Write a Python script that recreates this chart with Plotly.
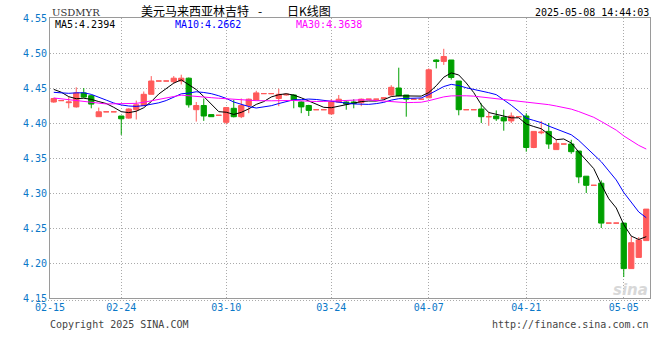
import pandas as pd
import plotly.graph_objects as go

# ---------------- data ----------------
missing_days = ["2025-03-31", "2025-04-20", "2025-04-27"]
all_days = pd.date_range("2025-02-15", "2025-05-08", freq="D")
dates = [d.strftime("%m-%d") for d in all_days if d.strftime("%Y-%m-%d") not in missing_days]

opens = [4.430, 4.432, 4.429, 4.423, 4.443, 4.439, 4.409, 4.416, 4.416, 4.410,
         4.407, 4.419, 4.425, 4.441, 4.460, 4.460, 4.459, 4.460, 4.464, 4.419,
         4.425, 4.412, 4.411, 4.401, 4.421, 4.409, 4.425, 4.433, 4.442, 4.442,
         4.435, 4.440, 4.440, 4.430, 4.425, 4.419, 4.419, 4.413, 4.430, 4.430,
         4.430, 4.429, 4.434, 4.434, 4.435, 4.440, 4.450, 4.440, 4.434, 4.434,
         4.436, 4.490, 4.488, 4.490, 4.460, 4.419, 4.419, 4.420, 4.409, 4.410,
         4.408, 4.403, 4.409, 4.410, 4.365, 4.386, 4.388, 4.362, 4.370, 4.370,
         4.360, 4.324, 4.311, 4.314, 4.257, 4.257, 4.257, 4.192, 4.208, 4.232]
highs = [4.436, 4.432, 4.437, 4.451, 4.450, 4.440, 4.422, 4.416, 4.416, 4.410,
         4.421, 4.432, 4.445, 4.467, 4.460, 4.460, 4.467, 4.469, 4.465, 4.430,
         4.435, 4.412, 4.411, 4.422, 4.433, 4.435, 4.435, 4.446, 4.442, 4.442,
         4.449, 4.442, 4.441, 4.431, 4.426, 4.419, 4.419, 4.434, 4.440, 4.431,
         4.434, 4.435, 4.434, 4.434, 4.437, 4.454, 4.479, 4.440, 4.434, 4.434,
         4.478, 4.491, 4.506, 4.490, 4.460, 4.419, 4.419, 4.428, 4.416, 4.418,
         4.419, 4.415, 4.409, 4.414, 4.388, 4.403, 4.400, 4.377, 4.370, 4.376,
         4.360, 4.324, 4.311, 4.318, 4.257, 4.257, 4.257, 4.238, 4.237, 4.277]
lows = [4.429, 4.432, 4.421, 4.422, 4.436, 4.421, 4.409, 4.416, 4.416, 4.383,
        4.406, 4.405, 4.424, 4.441, 4.460, 4.460, 4.456, 4.455, 4.422, 4.402,
        4.403, 4.409, 4.411, 4.398, 4.408, 4.407, 4.414, 4.433, 4.442, 4.442,
        4.424, 4.439, 4.421, 4.414, 4.410, 4.419, 4.419, 4.412, 4.430, 4.419,
        4.421, 4.424, 4.434, 4.434, 4.434, 4.439, 4.438, 4.409, 4.434, 4.434,
        4.436, 4.478, 4.483, 4.462, 4.411, 4.419, 4.419, 4.400, 4.396, 4.403,
        4.389, 4.400, 4.409, 4.359, 4.364, 4.384, 4.363, 4.362, 4.370, 4.356,
        4.314, 4.300, 4.311, 4.250, 4.257, 4.257, 4.180, 4.192, 4.208, 4.232]
closes = [4.435, 4.432, 4.430, 4.443, 4.437, 4.427, 4.416, 4.416, 4.416, 4.406,
          4.420, 4.426, 4.441, 4.460, 4.460, 4.460, 4.464, 4.464, 4.426, 4.425,
          4.410, 4.409, 4.411, 4.422, 4.409, 4.425, 4.434, 4.443, 4.442, 4.442,
          4.441, 4.441, 4.433, 4.423, 4.418, 4.419, 4.419, 4.430, 4.434, 4.427,
          4.428, 4.434, 4.434, 4.434, 4.436, 4.451, 4.439, 4.434, 4.434, 4.434,
          4.476, 4.488, 4.495, 4.465, 4.419, 4.419, 4.419, 4.409, 4.409, 4.406,
          4.403, 4.410, 4.409, 4.365, 4.388, 4.387, 4.370, 4.371, 4.370, 4.359,
          4.323, 4.311, 4.311, 4.257, 4.257, 4.257, 4.192, 4.229, 4.233, 4.277]

# closes of the 29 sessions before the window (needed for the moving averages)
prior_closes = [4.470, 4.470, 4.470, 4.478, 4.468, 4.455, 4.447, 4.410, 4.410, 4.410,
                4.412, 4.395, 4.392, 4.395, 4.405, 4.405, 4.405, 4.460, 4.448, 4.430,
                4.440, 4.436, 4.436, 4.436, 4.450, 4.452, 4.462, 4.4575, 4.4335]

tick_labels = ["02-15", "02-24", "03-10", "03-24", "04-07", "04-21", "05-05"]
symbol = "USDMYR"
title_parts = ["美元马来西亚林吉特", "-", "日K线图"]
stamp = "2025-05-08 14:44:03"
ma_texts = ["MA5:4.2394", "MA10:4.2662", "MA30:4.3638"]
ma_periods = [5, 10, 30]

# ---------------- styling ----------------
RED = "#ff5a5a"
GREEN = "#00a000"
MA_COLORS = ["#000000", "#0000ff", "#ff00ff"]
BLUE_TXT = "#0a78c8"
MONO = "DejaVu Sans Mono, Liberation Mono, monospace"
GRID = "#aaaaaa"
FRAME = "#9a9a9a"

L, R, T, B = 50, 10, 18, 62
W, H = 660, 360
PW, PH = W - L - R, H - T - B


def px(x):
    return (x - L) / PW


def py(y):
    return (H - B - y) / PH


df = pd.DataFrame({"open": opens, "high": highs, "low": lows, "close": closes})
df["pos"] = range(len(df))
up = df[df["close"] >= df["open"]]
dn = df[df["close"] < df["open"]]

full = pd.Series(prior_closes + closes)

fig = go.Figure()
for sub, col in [(up, RED), (dn, GREEN)]:
    fig.add_trace(go.Candlestick(
        x=sub["pos"], open=sub["open"], high=sub["high"], low=sub["low"], close=sub["close"],
        increasing=dict(line=dict(color=col, width=1), fillcolor=col),
        decreasing=dict(line=dict(color=col, width=1), fillcolor=col),
        whiskerwidth=0, hoverinfo="skip", showlegend=False))

n_prior = len(prior_closes)
for p, c in zip(ma_periods, MA_COLORS):
    ma = full.rolling(p, min_periods=1).mean().iloc[n_prior:]
    fig.add_trace(go.Scatter(x=df["pos"], y=ma.values, mode="lines",
                             line=dict(color=c, width=1), hoverinfo="skip", showlegend=False))

tickvals = [dates.index(t) for t in tick_labels]
x_range = [-0.5, len(dates) - 0.5]
tickvals[0] = x_range[0]

fig.update_layout(
    width=W, height=H,
    margin=dict(l=L, r=R, t=T, b=B, pad=0),
    paper_bgcolor="white", plot_bgcolor="white",
    showlegend=False, boxgap=0.3, boxgroupgap=0,
    xaxis=dict(range=x_range, tickmode="array", tickvals=tickvals, ticktext=tick_labels,
               showgrid=True, gridcolor=GRID, griddash="1px,2px", gridwidth=1,
               zeroline=False, showline=True, linecolor=FRAME, linewidth=1, mirror=True,
               ticks="", tickfont=dict(family=MONO, size=10, color=BLUE_TXT),
               rangeslider=dict(visible=False), fixedrange=True),
    yaxis=dict(range=[4.15, 4.55], tick0=4.15, dtick=0.05, tickformat=".2f",
               showgrid=True, gridcolor=GRID, griddash="1px,2px", gridwidth=1,
               zeroline=False, showline=True, linecolor=FRAME, linewidth=1, mirror=True,
               ticks="", tickfont=dict(family=MONO, size=10, color=BLUE_TXT), fixedrange=True),
)

ann = []
ann.append(dict(text=symbol, x=px(51), y=py(12), xanchor="left", yanchor="middle",
                font=dict(family="DejaVu Serif, serif", size=10, color="#333333")))
for t, x0 in zip(title_parts, [140, 257, 286]):
    ann.append(dict(text=t, x=px(x0), y=py(10), xanchor="left", yanchor="middle",
                    font=dict(family="Noto Sans CJK SC", size=12, color="#000000")))
ann.append(dict(text=stamp, x=px(650), y=py(12), xanchor="right", yanchor="middle",
                font=dict(family=MONO, size=10, color="#000000")))
for t, x0, c in zip(ma_texts, [54, 174, 295], MA_COLORS):
    ann.append(dict(text=t, x=px(x0), y=py(24), xanchor="left", yanchor="middle",
                    font=dict(family=MONO, size=10, color=c)))
ann.append(dict(text="Copyright 2025 SINA.COM", x=px(49), y=py(324), xanchor="left", yanchor="middle",
                font=dict(family=MONO, size=10, color="#444444")))
ann.append(dict(text="http://finance.sina.com.cn", x=px(650), y=py(324), xanchor="right", yanchor="middle",
                font=dict(family=MONO, size=10, color="#444444")))
ann.append(dict(text="<i><b>sina</b></i>", x=px(630), y=py(290), xanchor="center", yanchor="middle",
                font=dict(family="DejaVu Sans", size=15, color="#d8d8d8")))
for a in ann:
    a.update(xref="paper", yref="paper", showarrow=False, borderpad=0)
fig.update_layout(annotations=ann)

fig.add_shape(type="line", xref="paper", yref="paper", x0=px(33), x1=1.0, y0=py(300.5), y1=py(300.5),
              line=dict(color=GRID, width=1, dash="1px,2px"))

fig.write_html("out.html")
